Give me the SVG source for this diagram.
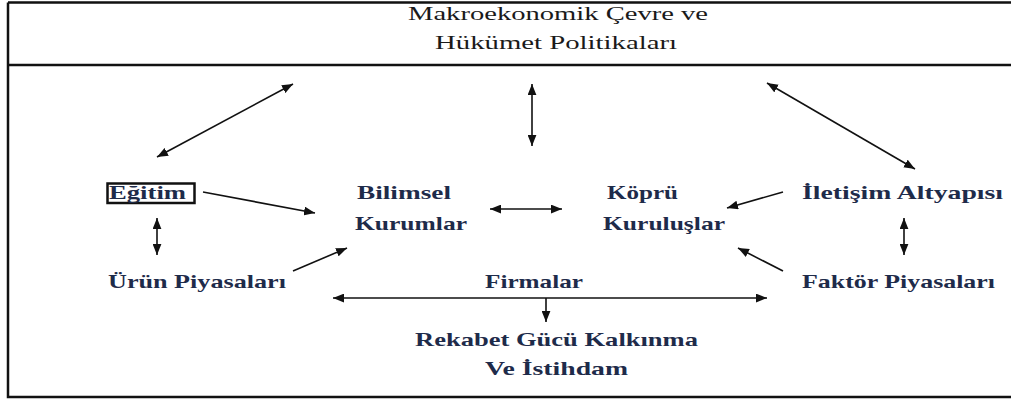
<svg xmlns="http://www.w3.org/2000/svg" width="1011" height="401" viewBox="0 0 1011 401">
<style>
.frame{fill:none;stroke:#111;stroke-width:2.5}
.t{font-family:"Liberation Serif","Times New Roman",serif;font-size:19px;fill:#1e2b4a}
.h{font-size:18px;fill:#1a1a1a}
.b{font-weight:bold}
.c{stroke:#111;stroke-width:1.6;fill:none}
</style>
<defs>
<marker id="ah" viewBox="0 0 10 8" refX="10" refY="4" markerWidth="11" markerHeight="9" markerUnits="userSpaceOnUse" orient="auto-start-reverse">
<path d="M0,0 L10,4 L0,8 z" fill="#111"/>
</marker>
</defs>
<rect width="1011" height="401" fill="#fff"/>
<g id="frame">
<path class="frame" d="M8,2.5 H1013 M8,2.5 V397 H1013 M8,65 H1013"/>
</g>
<g id="macro">
<text class="t h" x="408" y="20" textLength="300" lengthAdjust="spacingAndGlyphs">Makroekonomik Çevre ve</text>
<text class="t h" x="435" y="49" textLength="242" lengthAdjust="spacingAndGlyphs">Hükümet Politikaları</text>
</g>
<g id="egitim">
<rect x="107.5" y="183.5" width="87" height="19.5" fill="none" stroke="#111" stroke-width="2.5"/>
<text class="t b" x="109" y="199" textLength="77" lengthAdjust="spacingAndGlyphs">Eğitim</text>
</g>
<g id="bilimsel">
<text class="t b" x="357" y="199" textLength="94" lengthAdjust="spacingAndGlyphs">Bilimsel</text>
<text class="t b" x="355" y="230" textLength="112" lengthAdjust="spacingAndGlyphs">Kurumlar</text>
</g>
<g id="kopru">
<text class="t b" x="607" y="199" textLength="71" lengthAdjust="spacingAndGlyphs">Köprü</text>
<text class="t b" x="603" y="230" textLength="122" lengthAdjust="spacingAndGlyphs">Kuruluşlar</text>
</g>
<g id="iletisim">
<text class="t b" x="802" y="199" textLength="201" lengthAdjust="spacingAndGlyphs">İletişim Altyapısı</text>
</g>
<g id="urun">
<text class="t b" x="108" y="288" textLength="178" lengthAdjust="spacingAndGlyphs">Ürün Piyasaları</text>
</g>
<g id="faktor">
<text class="t b" x="802" y="288" textLength="193" lengthAdjust="spacingAndGlyphs">Faktör Piyasaları</text>
</g>
<g id="firmalar">
<text class="t b" x="485" y="288" textLength="98" lengthAdjust="spacingAndGlyphs">Firmalar</text>
</g>
<g id="rekabet">
<text class="t b" x="415" y="346" textLength="283" lengthAdjust="spacingAndGlyphs">Rekabet Gücü Kalkınma</text>
<text class="t b" x="485" y="375" textLength="143" lengthAdjust="spacingAndGlyphs">Ve İstihdam</text>
</g>
<g id="connectors">
<line class="c" x1="157" y1="157" x2="293" y2="84" marker-start="url(#ah)" marker-end="url(#ah)"/>
<line class="c" x1="532" y1="84" x2="532" y2="146" stroke-width="2" marker-start="url(#ah)" marker-end="url(#ah)"/>
<line class="c" x1="767" y1="83" x2="915" y2="169" marker-start="url(#ah)" marker-end="url(#ah)"/>
<line class="c" x1="203" y1="192" x2="315" y2="213" marker-end="url(#ah)"/>
<line class="c" x1="157" y1="218" x2="157" y2="255" stroke-width="2.2" marker-start="url(#ah)" marker-end="url(#ah)"/>
<line class="c" x1="293" y1="271" x2="347" y2="248" marker-end="url(#ah)"/>
<line class="c" x1="490" y1="209" x2="562" y2="209" marker-start="url(#ah)" marker-end="url(#ah)"/>
<line class="c" x1="783" y1="192" x2="727" y2="208" marker-end="url(#ah)"/>
<line class="c" x1="783" y1="271" x2="738" y2="248" marker-end="url(#ah)"/>
<line class="c" x1="904" y1="218" x2="904" y2="255" stroke-width="2.2" marker-start="url(#ah)" marker-end="url(#ah)"/>
<line class="c" x1="333" y1="298" x2="767" y2="298" marker-start="url(#ah)" marker-end="url(#ah)"/>
<line class="c" x1="546" y1="298" x2="546" y2="322" stroke-width="2" marker-end="url(#ah)"/>
</g>
</svg>
